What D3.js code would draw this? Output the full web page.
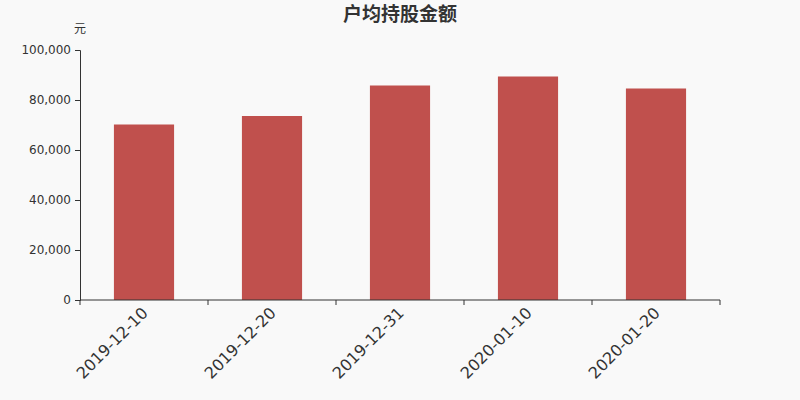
<!DOCTYPE html>
<html>
<head>
<meta charset="utf-8">
<script src="https://cdn.jsdelivr.net/npm/d3@7"></script>
<style>
  body { margin: 0; background: #f9f9f9; }
  svg { display: block; font-family: "DejaVu Sans", "Noto Sans CJK SC", sans-serif; }
  .axis text { fill: #333; }
  .axis path, .axis line { stroke: #333; }
</style>
</head>
<body>
<svg id="chart"></svg>
<script>
const dates = ["2019-12-10", "2019-12-20", "2019-12-31", "2020-01-10", "2020-01-20"];
const values = [70200, 73600, 85800, 89400, 84600];
const yTicks = [0, 20000, 40000, 60000, 80000, 100000];

const width = 800, height = 400;
const margin = { top: 50, right: 80, bottom: 100, left: 80 };
const innerW = width - margin.left - margin.right;
const innerH = height - margin.top - margin.bottom;

const svg = d3.select("#chart").attr("width", width).attr("height", height);
svg.append("rect").attr("width", width).attr("height", height).attr("fill", "#f9f9f9");

const chart = svg.append("g").attr("transform", `translate(${margin.left},${margin.top})`);

const x = d3.scaleBand().domain(dates).range([0, innerW]).paddingInner(0.53).paddingOuter(0.265);
const xTick = d3.scaleBand().domain(dates).range([0, innerW]);
const y = d3.scaleLinear().domain([0, 100000]).range([innerH, 0]);

// bars
chart.selectAll(".bar")
  .data(values)
  .join("rect")
  .attr("class", "bar")
  .attr("x", (d, i) => x(dates[i]))
  .attr("y", d => y(d))
  .attr("width", x.bandwidth())
  .attr("height", d => innerH - y(d))
  .attr("fill", "#c0504d");

// y axis
const yAxisG = chart.append("g")
  .attr("class", "axis")
  .call(d3.axisLeft(y).tickValues(yTicks).tickSize(5).tickPadding(4).tickFormat(d3.format(",")))
  .attr("font-family", "DejaVu Sans, sans-serif")
  .attr("font-size", 12);

// x axis: ticks on band boundaries
const xAxisG = chart.append("g")
  .attr("class", "axis")
  .attr("transform", `translate(0,${innerH})`);
xAxisG.append("line").attr("x1", 0).attr("x2", innerW).attr("stroke", "#333");
const bounds = dates.map(d => xTick(d)).concat([innerW]);
xAxisG.selectAll(".tk").data(bounds).join("line")
  .attr("class", "tk")
  .attr("x1", d => d).attr("x2", d => d)
  .attr("y1", 0).attr("y2", 5)
  .attr("stroke", "#333");
xAxisG.selectAll(".lbl").data(dates).join("text")
  .attr("class", "lbl")
  .attr("font-size", 16)
  .attr("text-anchor", "end")
  .attr("transform", d => `translate(${xTick(d) + xTick.bandwidth() / 2 + 1},${10}) rotate(-45)`)
  .attr("dy", "0.35em")
  .text(d => d);

// unit label
svg.append("text")
  .attr("x", 80).attr("y", 33)
  .attr("text-anchor", "middle")
  .attr("font-size", 12)
  .attr("fill", "#333")
  .text("元");

// title
svg.append("text")
  .attr("x", width / 2).attr("y", 21)
  .attr("text-anchor", "middle")
  .attr("font-size", 19)
  .attr("font-weight", "bold")
  .attr("fill", "#333")
  .text("户均持股金额");
</script>
</body>
</html>
